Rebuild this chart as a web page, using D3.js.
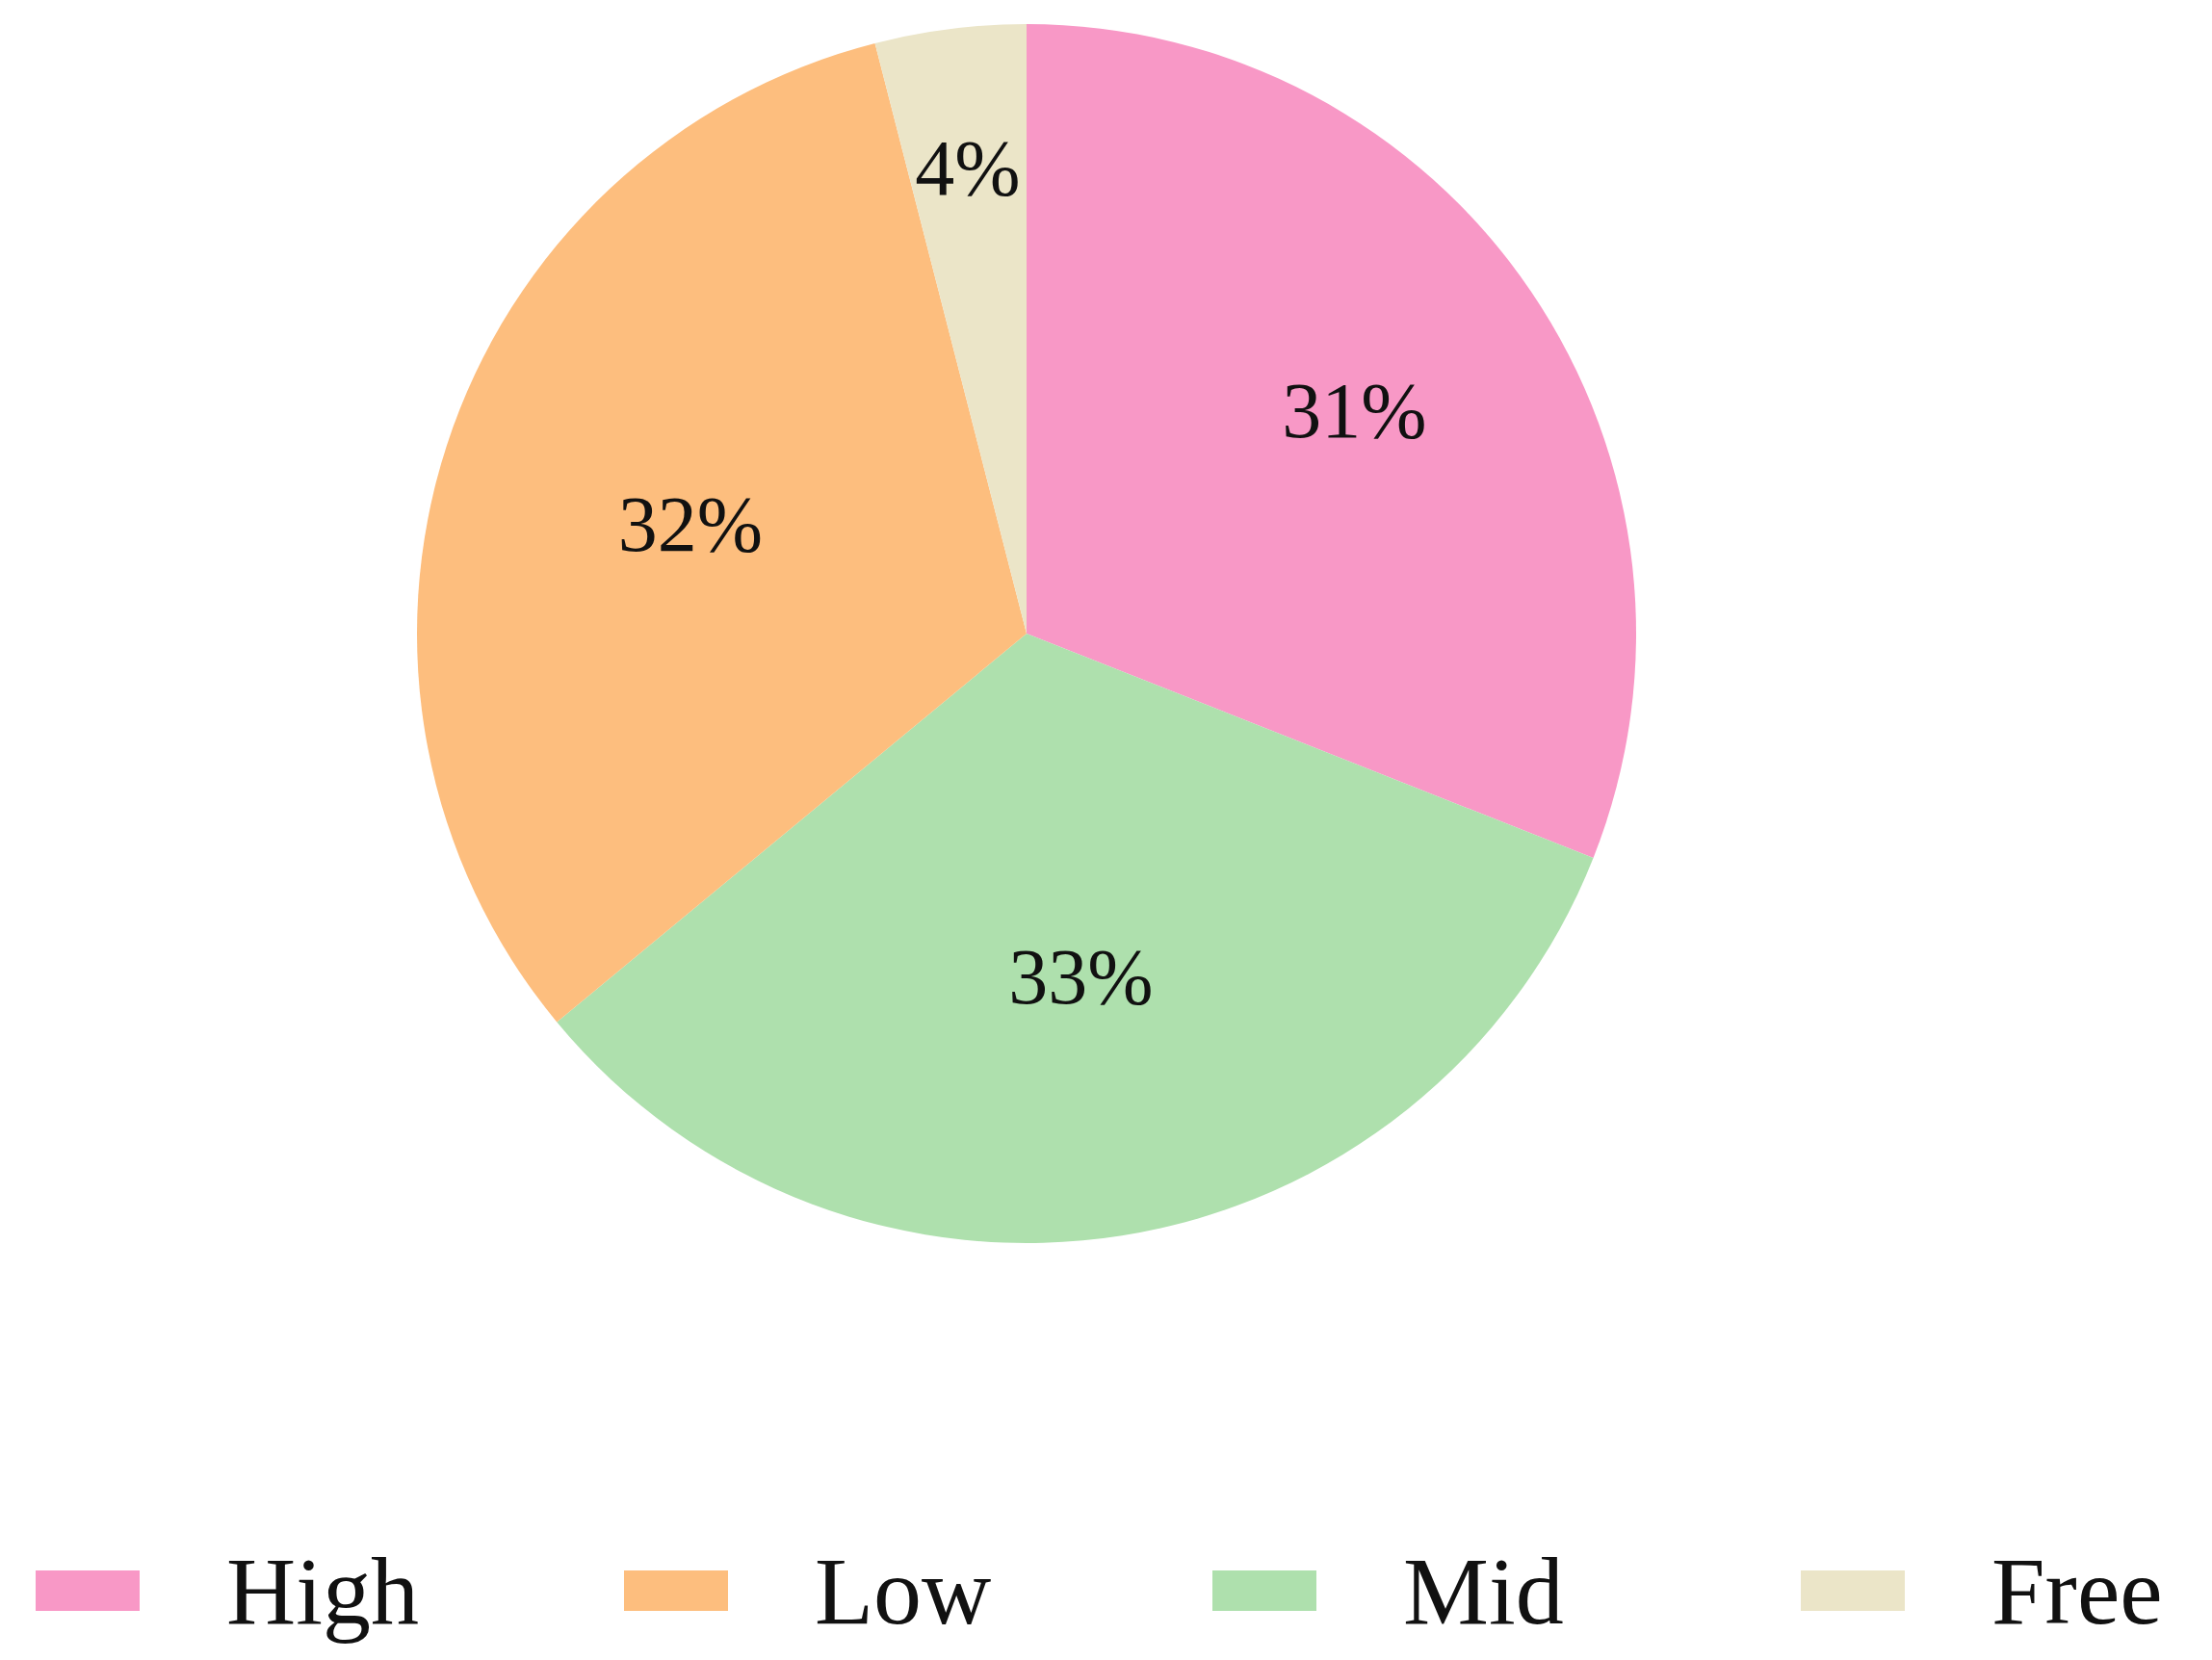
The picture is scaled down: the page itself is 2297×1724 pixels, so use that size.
<!DOCTYPE html>
<html>
<head>
<meta charset="utf-8">
<script src="https://cdn.jsdelivr.net/npm/d3@7"></script>
<style>
  body { margin: 0; background: #fff; }
  text { font-family: "Liberation Serif", "DejaVu Serif", serif; fill: #111; }
</style>
</head>
<body>
<svg width="2297" height="1724"></svg>
<script>
const categories = ['High', 'Mid', 'Low', 'Free'];
const values = [31, 33, 32, 4];
const colors = ['#f898c6', '#aee0ad', '#fdbe7e', '#ebe5c8'];
const labelDist = [0.65, 0.57, 0.58, 0.77];
const legendOrder = ['High', 'Low', 'Mid', 'Free'];

const svg = d3.select('svg');
const cx = 1066, cy = 658, r = 633;

const pie = d3.pie().sort(null).value(d => d)
  .startAngle(0).endAngle(2 * Math.PI);
const arcs = pie(values);
const arc = d3.arc().innerRadius(0).outerRadius(r);
const color = d3.scaleOrdinal().domain(categories).range(colors);

const g = svg.append('g').attr('transform', `translate(${cx},${cy})`);

g.selectAll('path')
  .data(arcs)
  .enter()
  .append('path')
  .attr('d', arc)
  .attr('fill', (_, i) => color(categories[i]));

g.selectAll('text')
  .data(arcs)
  .enter()
  .append('text')
  .attr('transform', (d, i) => {
    const a = (d.startAngle + d.endAngle) / 2;
    const rr = r * labelDist[i];
    return `translate(${Math.sin(a) * rr},${-Math.cos(a) * rr})`;
  })
  .attr('text-anchor', 'middle')
  .attr('dominant-baseline', 'central')
  .attr('font-size', 82)
  .text(d => d.data + '%');

// legend
const lx = d3.scalePoint().domain(legendOrder).range([37, 1870]);
const leg = svg.selectAll('g.leg')
  .data(legendOrder)
  .enter()
  .append('g')
  .attr('class', 'leg')
  .attr('transform', d => `translate(${lx(d)},1652)`);

leg.append('rect')
  .attr('x', 0).attr('y', -21)
  .attr('width', 108).attr('height', 42)
  .attr('fill', d => color(d));

leg.append('text')
  .attr('x', 198)
  .attr('dominant-baseline', 'central')
  .attr('font-size', 100)
  .text(d => d);
</script>
</body>
</html>
